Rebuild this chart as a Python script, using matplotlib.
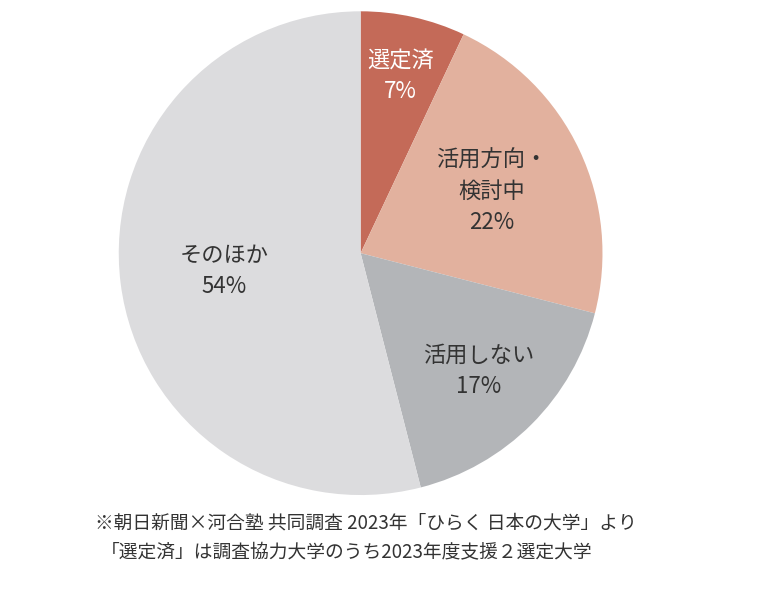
import matplotlib
matplotlib.use("Agg")
import matplotlib.pyplot as plt
import numpy as np

plt.rcParams['font.family'] = ['Noto Sans CJK JP', 'DejaVu Sans']

categories = ["選定済", "活用方向・\n検討中", "活用しない", "そのほか"]
values = [7, 22, 17, 54]
colors = ["#c46a58", "#e2b19e", "#b3b5b8", "#dcdcde"]
text_colors = ["white", "#333333", "#333333", "#333333"]
label_r = [0.75, 0.60, 0.69, 0.57]
caption = ["※朝日新聞×河合塾 共同調査 2023年「ひらく 日本の大学」より",
           "「選定済」は調査協力大学のうち2023年度支援２選定大学"]

fig = plt.figure(figsize=(7.6, 5.95), dpi=100)
ax = fig.add_axes([0.156, 0.168, 0.637, 0.813])
wedges, _ = ax.pie(values, colors=colors, startangle=90, counterclock=False,
                   wedgeprops=dict(linewidth=0))
ax.set_aspect('equal')
ax.set_xlim(-1, 1); ax.set_ylim(-1, 1)

for w, cat, v, r, tc in zip(wedges, categories, values, label_r, text_colors):
    ang = np.deg2rad((w.theta1 + w.theta2) / 2)
    ax.text(r * np.cos(ang), r * np.sin(ang), f"{cat}\n{v}%", ha='center', va='center',
            fontsize=16, color=tc, linespacing=1.45)

fig.text(0.125, 595 and (595-523)/595, caption[0], fontsize=13.5, color="#333333", va='center')
fig.text(0.132, (595-553)/595, caption[1], fontsize=13.5, color="#333333", va='center')
fig.savefig("out.png", dpi=100)
